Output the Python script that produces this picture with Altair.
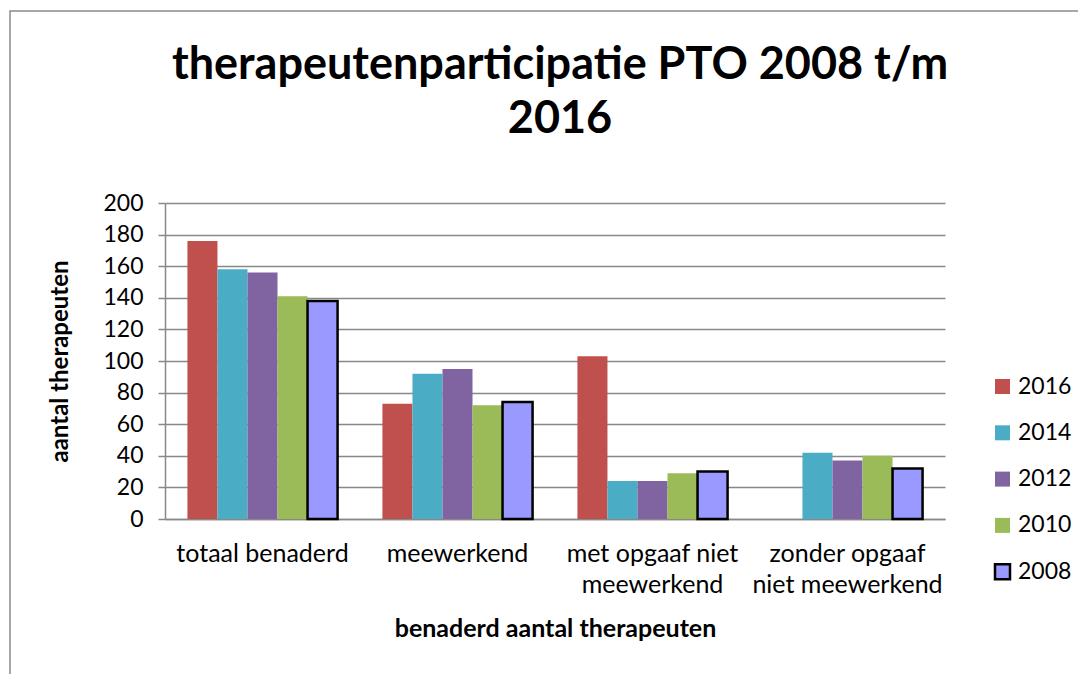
import altair as alt
import pandas as pd

categories = ["totaal benaderd", "meewerkend", "met opgaaf niet\nmeewerkend", "zonder opgaaf\nniet meewerkend"]
years = ["2016", "2014", "2012", "2010", "2008"]
v2016 = [176, 73, 103, None]
v2014 = [158, 92, 24, 42]
v2012 = [156, 95, 24, 37]
v2010 = [141, 72, 29, 40]
v2008 = [138, 74, 30, 32]
y_ticks = [0, 20, 40, 60, 80, 100, 120, 140, 160, 180, 200]
colors = ["#C0504D", "#4BACC6", "#8064A2", "#9BBB59", "#9999FF"]
strokes = ["transparent", "transparent", "transparent", "transparent", "black"]

rows = []
for y, vals in zip(years, [v2016, v2014, v2012, v2010, v2008]):
    for c, v in zip(categories, vals):
        if v is not None:
            rows.append({"cat": c, "year": y, "value": v})
df = pd.DataFrame(rows)

FONT = "Lato"

bars = alt.Chart(df).mark_bar(strokeWidth=2.5).encode(
    x=alt.X("cat:N", sort=categories,
            scale=alt.Scale(paddingInner=0.23, paddingOuter=0.115),
            axis=alt.Axis(title="benaderd aantal therapeuten", labelAngle=0,
                          labelExpr="split(datum.label, '\\n')",
                          ticks=False, labelPadding=22, labelLineHeight=31,
                          labelFontSize=25, labelLimit=400,
                          titlePadding=19, titleFontSize=25,
                          domainColor="#888888", domainWidth=1.5)),
    xOffset=alt.XOffset("year:N", sort=years),
    y=alt.Y("value:Q", scale=alt.Scale(domain=[0, 200]),
            axis=alt.Axis(title="aantal therapeuten", values=y_ticks, labelOverlap=False,
                          tickSize=7, labelPadding=15, titlePadding=30, labelFontSize=23,
                          domainColor="#888888", domainWidth=1.5,
                          gridColor="#888888", gridWidth=1.5, tickColor="#888888", tickWidth=1.5)),
    color=alt.Color("year:N", sort=years, scale=alt.Scale(domain=years, range=colors),
                    legend=alt.Legend(title=None, orient="none", legendX=826, legendY=172,
                                      symbolType="square", symbolSize=225, symbolStrokeWidth=2.5,
                                      labelFontSize=23, labelFont=FONT, rowPadding=21.3,
                                      labelOffset=4, symbolOpacity=1, labelLimit=200)),
    stroke=alt.Stroke("year:N", sort=years, scale=alt.Scale(domain=years, range=strokes)),
)

border = alt.Chart(alt.Data(values=[{}])).mark_rect(fill="transparent", stroke="#8a8a8a", strokeWidth=1.5).encode(
    x=alt.value(-155), x2=alt.value(1000), y=alt.value(-192), y2=alt.value(600)
)

chart = alt.layer(border, bars).properties(
    width=780, height=316,
    title=alt.TitleParams(["therapeutenparticipatie PTO 2008 t/m", "2016"],
                          fontSize=45, font=FONT, fontWeight="bold", anchor="middle",
                          lineHeight=54, offset=-132, dx=5, color="black"),
    autosize=alt.AutoSizeParams(type="none"),
    padding={"left": 157, "top": 195, "right": 133, "bottom": 155},
).configure_axis(
    labelFont=FONT, labelColor="black",
    titleFont=FONT, titleFontSize=24, titleFontWeight="bold", titleColor="black",
).configure_axisX(grid=False).configure_view(stroke=None)

chart.save("out.html", embed_options={"renderer": "svg", "actions": False})
